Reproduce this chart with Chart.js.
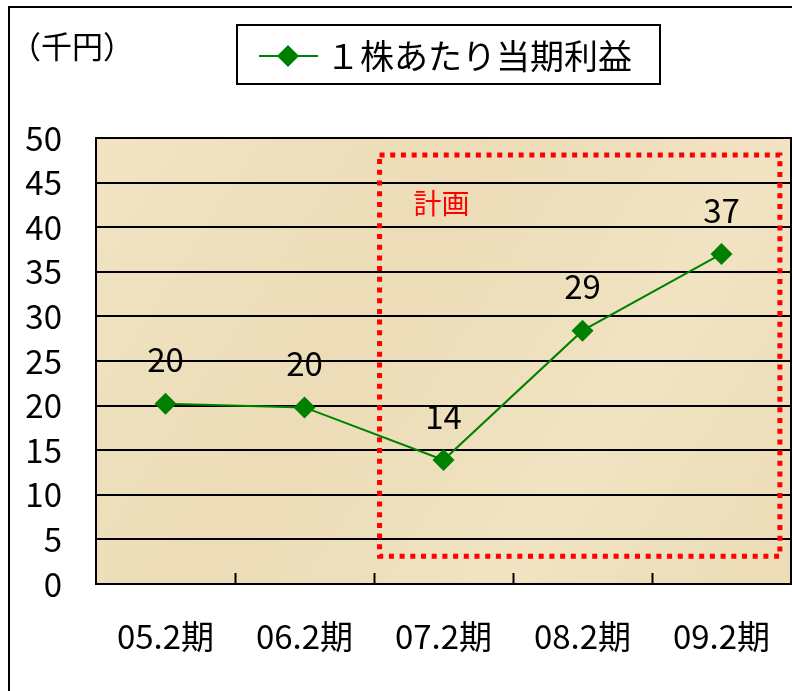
<!DOCTYPE html>
<html>
<head>
<meta charset="utf-8">
<script src="https://cdn.jsdelivr.net/npm/chart.js@4/dist/chart.umd.min.js"></script>
<style>
    html, body { margin: 0; padding: 0; background: #fff; }
    #wrap { width: 792px; height: 691px; }
</style>
</head>
<body>
<div id="wrap"><canvas id="chart" width="792" height="691"></canvas></div>
<script>
// chart data
const periods = ['05.2期', '06.2期', '07.2期', '08.2期', '09.2期'];
const epsValues = [20.2, 19.8, 13.9, 28.4, 37.0];
const epsLabels = ['20', '20', '14', '29', '37'];
const yTicks = [0, 5, 10, 15, 20, 25, 30, 35, 40, 45, 50];
const seriesName = '１株あたり当期利益';
const unitLabel = '（千円）';
const planLabel = '計画';
// plan box in data units (category index / value)
const planFrom = 1.54, planTo = 4.42, planLow = 3.1, planHigh = 48.1;

const FONT = '"Noto Sans CJK JP", "Noto Sans", sans-serif';
const GREEN = '#008000';

Chart.defaults.font.family = FONT;
Chart.defaults.color = '#000';

function diamond(ctx, x, y, r) {
    ctx.beginPath();
    ctx.moveTo(x, y - r);
    ctx.lineTo(x + r, y);
    ctx.lineTo(x, y + r);
    ctx.lineTo(x - r, y);
    ctx.closePath();
    ctx.fill();
}

const decorPlugin = {
    id: 'decor',
    beforeDraw(chart) {
        const ctx = chart.ctx;
        const a = chart.chartArea;
        ctx.save();
        ctx.fillStyle = '#fff';
        ctx.fillRect(0, 0, chart.width, chart.height);
        // parchment-like plot background
        ctx.fillStyle = '#efe0bd';
        ctx.fillRect(a.left, a.top, a.right - a.left, a.bottom - a.top);
        const g = ctx.createLinearGradient(a.left, a.top, a.right, a.bottom);
        g.addColorStop(0, 'rgba(246,234,204,0.45)');
        g.addColorStop(0.4, 'rgba(230,212,172,0.3)');
        g.addColorStop(0.7, 'rgba(245,232,202,0.4)');
        g.addColorStop(1, 'rgba(230,212,172,0.35)');
        ctx.fillStyle = g;
        ctx.fillRect(a.left, a.top, a.right - a.left, a.bottom - a.top);
        ctx.restore();
    },
    beforeDatasetsDraw(chart) {
        const ctx = chart.ctx;
        const xs = chart.scales.x, ys = chart.scales.y;
        ctx.save();
        // plan box
        const l = xs.getPixelForValue(planFrom), r = xs.getPixelForValue(planTo);
        const t = ys.getPixelForValue(planHigh), b = ys.getPixelForValue(planLow);
        ctx.strokeStyle = '#ff0000';
        ctx.lineWidth = 5;
        ctx.setLineDash([5, 5.7]);
        ctx.strokeRect(l, t, r - l, b - t);
        ctx.setLineDash([]);
        ctx.fillStyle = '#ff0000';
        ctx.font = '28px ' + FONT;
        ctx.textAlign = 'left';
        ctx.textBaseline = 'middle';
        ctx.fillText(planLabel, l + 34, t + 48);
        ctx.restore();
    },
    afterDraw(chart) {
        const ctx = chart.ctx;
        const a = chart.chartArea;
        const xs = chart.scales.x;
        ctx.save();
        // plot border
        ctx.strokeStyle = '#000';
        ctx.lineWidth = 2;
        ctx.strokeRect(a.left, a.top, a.right - a.left, a.bottom - a.top);
        // x tick marks (inside)
        for (let i = 1; i < periods.length; i++) {
            const x = Math.round(xs.getPixelForValue(i - 0.5)) + 0.5;
            ctx.beginPath();
            ctx.moveTo(x, a.bottom);
            ctx.lineTo(x, a.bottom - 11);
            ctx.stroke();
        }
        // outer frame
        ctx.strokeRect(9, 7, chart.width + 10, chart.height + 10);

        // data labels
        const meta = chart.getDatasetMeta(0);
        ctx.fillStyle = '#000';
        ctx.font = '33px ' + FONT;
        ctx.textAlign = 'center';
        ctx.textBaseline = 'middle';
        meta.data.forEach((pt, i) => {
            ctx.fillText(epsLabels[i], pt.x, pt.y - 44);
        });

        // unit label
        ctx.font = '31px ' + FONT;
        ctx.textAlign = 'left';
        ctx.fillText(unitLabel, 10, 46);

        // legend
        ctx.fillStyle = '#fff';
        ctx.fillRect(237, 25, 423, 59);
        ctx.strokeStyle = '#000';
        ctx.lineWidth = 2;
        ctx.strokeRect(237, 25, 423, 59);
        ctx.strokeStyle = GREEN;
        ctx.beginPath();
        ctx.moveTo(259, 56);
        ctx.lineTo(318, 56);
        ctx.stroke();
        ctx.fillStyle = GREEN;
        diamond(ctx, 288, 56, 11);
        ctx.fillStyle = '#000';
        ctx.font = '34px ' + FONT;
        ctx.fillText(seriesName, 326, 56);
        ctx.restore();
    }
};

const ctx = document.getElementById('chart').getContext('2d');
new Chart(ctx, {
    type: 'line',
    data: {
        labels: periods,
        datasets: [{
            label: seriesName,
            data: epsValues,
            borderColor: GREEN,
            backgroundColor: GREEN,
            borderWidth: 2,
            pointStyle: 'rectRot',
            pointRadius: 11,
            pointHoverRadius: 11,
            pointBackgroundColor: GREEN,
            pointBorderWidth: 0,
            tension: 0
        }]
    },
    options: {
        responsive: false,
        animation: false,
        layout: { autoPadding: false, padding: { top: 138, right: 1, left: 0, bottom: 0 } },
        plugins: {
            legend: { display: false },
            tooltip: { enabled: false }
        },
        scales: {
            x: {
                offset: true,
                grid: { display: false },
                border: { display: true, color: '#000', width: 2 },
                ticks: { font: { size: 33 }, color: '#000', padding: 25, maxRotation: 0 },
                afterFit: s => { s.height = 107; s.paddingLeft = 0; s.paddingRight = 0; }
            },
            y: {
                min: 0,
                max: 50,
                afterBuildTicks: s => { s.ticks = yTicks.map(v => ({ value: v })); },
                grid: { color: '#000', lineWidth: 2, drawTicks: false },
                border: { display: true, color: '#000', width: 2 },
                ticks: { font: { size: 33 }, color: '#000', padding: 34 },
                afterFit: s => { s.width = 96; s.paddingTop = 0; s.paddingBottom = 0; }
            }
        }
    },
    plugins: [decorPlugin]
});
</script>
</body>
</html>
